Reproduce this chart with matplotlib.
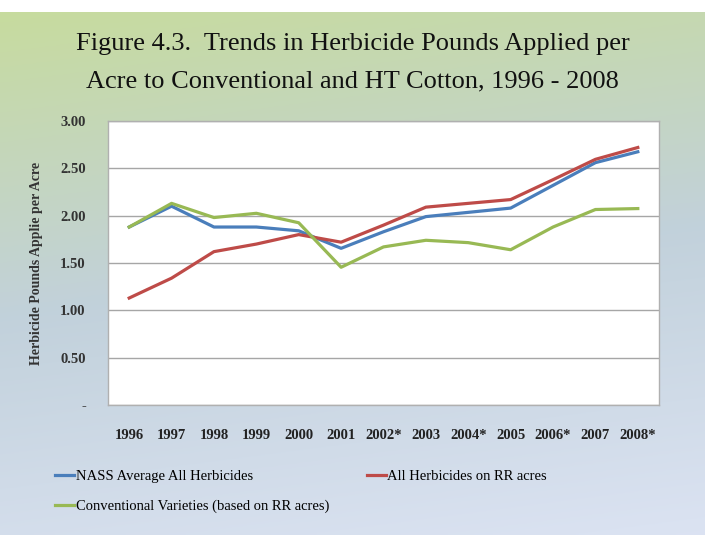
import numpy as np
import matplotlib
matplotlib.use('Agg')
import matplotlib.pyplot as plt

# %% Data
years = ['1996', '1997', '1998', '1999', '2000', '2001', '2002*', '2003',
         '2004*', '2005', '2006*', '2007', '2008*']
nass_avg = [1.88, 2.10, 1.88, 1.88, 1.84, 1.655, 1.83, 1.99, 2.035, 2.08, 2.32, 2.56, 2.675]
rr_all = [1.13, 1.34, 1.62, 1.70, 1.80, 1.72, 1.90, 2.09, 2.13, 2.17, 2.38, 2.595, 2.72]
conventional = [1.88, 2.13, 1.98, 2.025, 1.925, 1.455, 1.67, 1.74, 1.715, 1.64, 1.88, 2.065, 2.075]

yticks = [0, 0.5, 1.0, 1.5, 2.0, 2.5, 3.0]
ytick_labels = ['-', '0.50', '1.00', '1.50', '2.00', '2.50', '3.00']

serif = ['Liberation Serif', 'DejaVu Serif']

# %% Figure with gradient background
fig = plt.figure(figsize=(7.05, 5.35), dpi=100)
bg = fig.add_axes([0, 0, 1, 1 - 12/535])
bg.set_axis_off()
ny, nx = 200, 200
yy, xx = np.mgrid[0:1:ny*1j, 0:1:nx*1j]
t = np.clip(0.85*yy + 0.15*xx, 0, 1)
top = np.array([0.78, 0.86, 0.62])
mid = np.array([0.76, 0.82, 0.86])
bot = np.array([0.86, 0.89, 0.95])
img = np.where(t[..., None] < 0.5,
               top + (mid - top)*(t[..., None]/0.5),
               mid + (bot - mid)*((t[..., None]-0.5)/0.5))
bg.imshow(img, aspect='auto', extent=[0, 1, 0, 1], origin='upper')
bg.set_xlim(0, 1)
bg.set_ylim(0, 1)

fig.text(0.5, 1 - 44/535, 'Figure 4.3.  Trends in Herbicide Pounds Applied per',
         ha='center', va='center', fontsize=19, family=serif, color='#111111')
fig.text(0.5, 1 - 81/535, 'Acre to Conventional and HT Cotton, 1996 - 2008',
         ha='center', va='center', fontsize=19, family=serif, color='#111111')

# %% Plot
ax = fig.add_axes([108/705, 1 - 405/535, (659-108)/705, (405-121)/535])
ax.set_facecolor('white')
x = np.arange(len(years))
l1, = ax.plot(x, nass_avg, color='#4a7ebb', lw=2.3, label='NASS Average All Herbicides')
l2, = ax.plot(x, rr_all, color='#be4b48', lw=2.3, label='All Herbicides on RR acres')
l3, = ax.plot(x, conventional, color='#98b954', lw=2.3, label='Conventional Varieties (based on RR acres)')

ax.set_xlim(-0.5, len(years) - 0.5)
ax.set_ylim(0, 3.0)
ax.set_yticks(yticks)
ax.set_yticklabels(ytick_labels, family=serif, fontsize=10.5, fontweight='bold', color='#333333')
ax.set_xticks(x)
ax.set_xticklabels(years, family=serif, fontsize=10.5, fontweight='bold', color='#222222')
ax.tick_params(axis='y', length=0, pad=16)
ax.tick_params(axis='x', length=0, pad=17)
ax.grid(axis='y', color='#a6a6a6', lw=1)
ax.set_axisbelow(True)
for s in ax.spines.values():
    s.set_color('#b0b0b0')
    s.set_linewidth(1)

ax.set_ylabel('Herbicide Pounds Applie per Acre', family=serif, fontsize=10,
              fontweight='bold', color='#333333', labelpad=12)

leg = fig.legend([l1, l3, l2], [l1.get_label(), l3.get_label(), l2.get_label()],
                 ncol=2, loc='upper left', bbox_to_anchor=(42/705, 1 - 457/535),
                 frameon=False, handlelength=1.3, handletextpad=0.1,
                 columnspacing=2.6, labelspacing=1.1,
                 prop={'family': serif, 'size': 10.5})

fig.savefig('out.png', dpi=100)
